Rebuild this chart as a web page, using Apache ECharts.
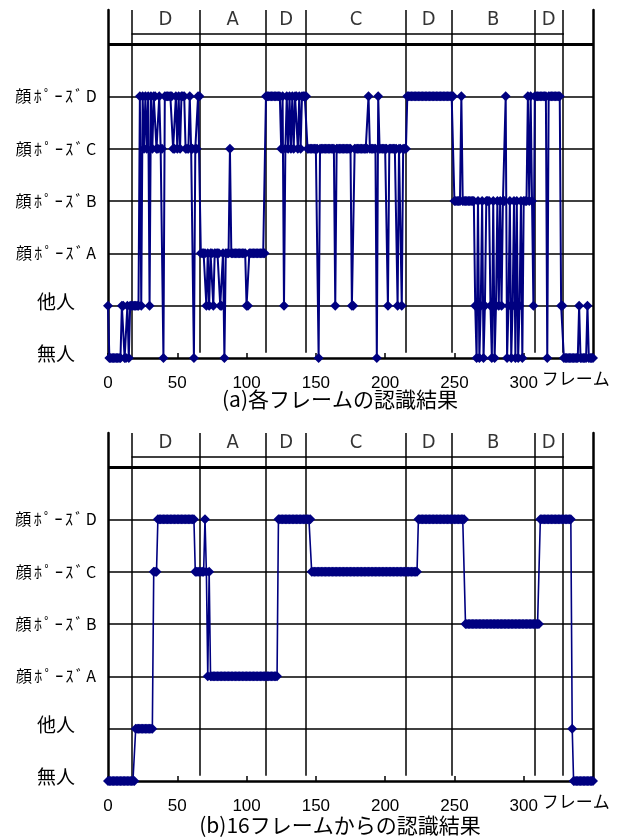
<!DOCTYPE html>
<html><head><meta charset="utf-8">
<script src="https://cdn.jsdelivr.net/npm/echarts@6/dist/echarts.min.js"></script>
<style>html,body{margin:0;padding:0;background:#fff}#c{width:619px;height:839px}</style>
</head><body><div id="c"></div>
<script>
// y categories (level 0..5)
const yLabels = ['無人','他人','顔ﾎﾟｰｽﾞA','顔ﾎﾟｰｽﾞB','顔ﾎﾟｰｽﾞC','顔ﾎﾟｰｽﾞD'];
// segment header (ground truth pose)
const segNames = ['D','A','D','C','D','B','D'];
const segBounds = [17,66,114,143,215,248,308,328];
const xTickMax = 300;
const captions = ['(a)各フレームの認識結果','(b)16フレームからの認識結果'];
const xName = 'フレーム';

// (a) per-frame recognition result, frame 0..350
const resultA = [
 1,0,0,0,0,0,0,0,0,0,
 1,1,0,0,1,0,1,1,1,1,
 1,1,1,5,1,5,4,5,4,5,
 1,5,4,5,5,4,4,5,4,4,
 0,5,5,5,5,5,5,4,4,5,
 4,5,4,5,5,5,4,4,4,5,
 4,4,0,4,4,5,5,2,2,2,
 2,1,2,1,2,2,1,2,2,2,
 2,1,1,2,0,2,2,2,4,2,
 2,2,2,2,2,2,2,2,2,2,
 1,1,2,2,2,2,2,2,2,2,
 2,2,2,2,5,5,5,5,5,5,
 5,5,5,5,5,4,5,1,4,5,
 4,5,4,5,4,5,5,4,5,4,
 5,5,5,5,4,4,4,4,4,4,
 4,4,0,4,4,4,4,4,4,4,
 4,4,4,4,1,4,4,4,4,4,
 4,4,4,4,4,4,1,1,4,4,
 4,4,4,4,4,4,4,4,5,4,
 4,4,4,4,0,5,4,4,4,4,
 4,4,1,4,4,4,4,4,4,1,
 4,4,1,4,4,4,5,5,5,5,
 5,5,5,5,5,5,5,5,5,5,
 5,5,5,5,5,5,5,5,5,5,
 5,5,5,5,5,5,5,5,5,5,
 3,3,3,3,3,5,3,3,3,3,
 3,3,3,3,3,1,0,3,0,1,
 3,0,1,3,3,3,1,0,3,0,
 1,3,1,3,1,3,3,5,0,1,
 3,0,1,3,0,3,0,1,3,0,
 3,3,3,5,3,5,3,1,5,5,
 5,5,5,5,5,5,5,0,5,5,
 5,5,5,5,5,5,5,1,1,0,
 0,0,0,0,0,0,0,0,0,0,
 1,0,0,0,0,0,1,0,0,0,
 0
];
// (b) result from 16 frames, frame 0..350
const resultB = [
 0,0,0,0,0,0,0,0,0,0,
 0,0,0,0,0,0,0,0,0,0,
 1,1,1,1,1,1,1,1,1,1,
 1,1,1,4,4,4,5,5,5,5,
 5,5,5,5,5,5,5,5,5,5,
 5,5,5,5,5,5,5,5,5,5,
 5,5,5,4,4,4,4,4,4,4,
 5,4,2,4,2,2,2,2,2,2,
 2,2,2,2,2,2,2,2,2,2,
 2,2,2,2,2,2,2,2,2,2,
 2,2,2,2,2,2,2,2,2,2,
 2,2,2,2,2,2,2,2,2,2,
 2,2,2,5,5,5,5,5,5,5,
 5,5,5,5,5,5,5,5,5,5,
 5,5,5,5,5,5,5,4,4,4,
 4,4,4,4,4,4,4,4,4,4,
 4,4,4,4,4,4,4,4,4,4,
 4,4,4,4,4,4,4,4,4,4,
 4,4,4,4,4,4,4,4,4,4,
 4,4,4,4,4,4,4,4,4,4,
 4,4,4,4,4,4,4,4,4,4,
 4,4,4,4,4,4,4,4,4,4,
 4,4,4,4,5,5,5,5,5,5,
 5,5,5,5,5,5,5,5,5,5,
 5,5,5,5,5,5,5,5,5,5,
 5,5,5,5,5,5,5,5,3,3,
 3,3,3,3,3,3,3,3,3,3,
 3,3,3,3,3,3,3,3,3,3,
 3,3,3,3,3,3,3,3,3,3,
 3,3,3,3,3,3,3,3,3,3,
 3,3,3,3,3,3,3,3,3,3,
 3,3,5,5,5,5,5,5,5,5,
 5,5,5,5,5,5,5,5,5,5,
 5,5,5,5,5,1,0,0,0,0,
 0,0,0,0,0,0,0,0,0,0,
 0
];

const CJK = "'Noto Sans CJK JP', sans-serif";
const LAT = "'Liberation Sans', Arial, sans-serif";
const NARROW = "'Liberation Sans Narrow', 'DejaVu Sans Condensed', sans-serif";
const YMAX = 6.65, HEAD_Y = 6.46, UNDER_Y = 6.205;

const chart = echarts.init(document.getElementById('c'), null, {renderer:'canvas'});
const grids = [], xAxes = [], yAxes = [], series = [], titles = [];
const tops = [10, 433];
const results = [resultA, resultB];
const lw = [2, 1.6];

function yLabelFmt(v) {
  if (!Number.isInteger(v) || v >= yLabels.length) return '';
  const t = yLabels[v];
  if (v < 2) return '{b|' + t + '}';
  return Array.from(t).map(c => '{s|' + c + '}').join('');
}

results.forEach((res, i) => {
  grids.push({left:108, width:485, top:tops[i], height:348});
  xAxes.push({
    gridIndex:i, type:'value', min:0, max:350, interval:50,
    axisLine:{show:true, onZero:false, lineStyle:{color:'#000', width:2.5}},
    axisTick:{show:true, inside:true, length:5, lineStyle:{color:'#000', width:1.5}},
    axisLabel:{margin:17, color:'#000', fontSize:17, fontFamily:LAT,
      formatter: v => v <= xTickMax ? String(v) : ''},
    splitLine:{show:false},
    name:xName, nameLocation:'end', nameGap:-53,
    nameTextStyle:{color:'#000', fontSize:17, fontFamily:CJK, align:'left', verticalAlign:'top', padding:[12,0,0,0]}
  });
  yAxes.push({
    gridIndex:i, type:'value', min:0, max:YMAX, interval:1,
    axisLine:{show:true, onZero:false, lineStyle:{color:'#000', width:2.5}},
    axisTick:{show:false},
    axisLabel:{margin:52, align:'center', color:'#000', formatter: yLabelFmt,
      rich:{s:{fontSize:16, fontFamily:CJK, color:'#000', padding:[0,1.2,0,1.2]},
            b:{fontSize:19, fontFamily:CJK, color:'#000', padding:[0,0,8,0]}}},
    splitLine:{show:true, showMinLine:false, showMaxLine:false, lineStyle:{color:'#000', width:1.5}}
  });
  yAxes.push({
    gridIndex:i, type:'value', min:0, max:YMAX, position:'right',
    axisLine:{show:true, onZero:false, lineStyle:{color:'#000', width:2.5}},
    axisTick:{show:false}, axisLabel:{show:false}, splitLine:{show:false}
  });
  // boundary lines, underline, top border
  const lineData = segBounds.map((b, k) => ({coords:[[b, k === 0 ? 0 : 0.1],[b, YMAX]]}));
  lineData.push({coords:[[segBounds[0], UNDER_Y],[segBounds[segBounds.length-1] + 1, UNDER_Y]]});
  lineData.push({coords:[[0, 6],[350, 6]], lineStyle:{width:3, color:'#000'}});
  series.push({
    type:'lines', coordinateSystem:'cartesian2d', xAxisIndex:i, yAxisIndex:i*2,
    silent:true, z:1, lineStyle:{color:'#000', width:1.5, opacity:1}, data:lineData
  });
  // header labels
  series.push({
    type:'scatter', xAxisIndex:i, yAxisIndex:i*2, silent:true, z:3,
    symbolSize:0.1, itemStyle:{color:'rgba(0,0,0,0)'},
    label:{show:true, position:'inside', color:'#000', fontSize:20, fontFamily:NARROW, formatter: p => p.value[2]},
    data: segNames.map((n, k) => [(segBounds[k] + segBounds[k+1]) / 2, HEAD_Y, n])
  });
  // recognition result
  series.push({
    type:'line', xAxisIndex:i, yAxisIndex:i*2, z:5, clip:false,
    symbol:'diamond', symbolSize:10, showAllSymbol:true, showSymbol:true,
    itemStyle:{color:'#000080'}, lineStyle:{color:'#000080', width:lw[i]},
    data: res.map((v, f) => [f, v])
  });
  titles.push({text:captions[i], left:340, top:[389, 815][i], textAlign:'center', padding:0,
    textStyle:{fontSize:21, fontWeight:'normal', fontFamily:CJK, color:'#000'}});
});

chart.setOption({
  animation:false, backgroundColor:'#fff',
  title:titles, grid:grids, xAxis:xAxes, yAxis:yAxes, series:series
});
</script></body></html>
